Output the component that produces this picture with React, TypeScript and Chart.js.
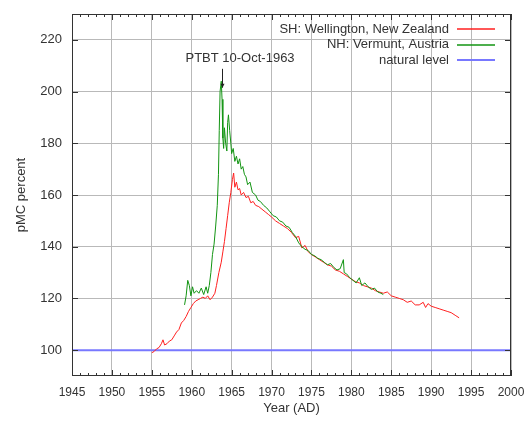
import React, { useEffect, useRef } from 'react';
import { Chart, registerables } from 'chart.js';

Chart.register(...registerables);

// SH: Wellington, New Zealand
const shYears = [
  1955.0, 1955.3, 1955.6, 1955.9, 1956.2, 1956.4, 1956.6, 1956.9, 1957.2, 1957.5,
  1957.8, 1958.1, 1958.4, 1958.7, 1959.0, 1959.3, 1959.6, 1959.9, 1960.2, 1960.5,
  1960.8, 1961.1, 1961.4, 1961.7, 1962.0, 1962.3, 1962.6, 1962.9, 1963.1, 1963.4,
  1963.7, 1963.9, 1964.1, 1964.3, 1964.5, 1964.7, 1964.9, 1965.1, 1965.25, 1965.4,
  1965.6, 1965.8, 1966.0, 1966.2, 1966.5, 1966.8, 1967.1, 1967.4, 1967.7, 1968.0,
  1968.4, 1968.8, 1969.2, 1969.6, 1970.0, 1970.5, 1971.0, 1971.5, 1972.0, 1972.5,
  1973.0, 1973.4, 1973.8, 1974.2, 1974.6, 1975.0, 1975.5, 1976.0, 1976.5, 1977.0,
  1977.5, 1978.0, 1978.5, 1979.0, 1979.5, 1980.0, 1980.5, 1981.0, 1981.5, 1982.0,
  1982.5, 1983.0, 1983.5, 1984.0, 1984.5, 1985.0, 1985.5, 1986.0, 1986.5, 1987.0,
  1987.5, 1988.0, 1988.5, 1989.0, 1989.3, 1989.6, 1990.0, 1990.5, 1991.0, 1991.5,
  1992.0, 1992.5, 1993.0, 1993.5,
];
const shValues = [
  99.0, 99.5, 100.5, 101.0, 102.5, 104.0, 102.0, 102.5, 103.5, 104.0,
  105.5, 107.0, 108.0, 110.5, 111.5, 113.0, 115.0, 116.5, 118.0, 119.0,
  119.5, 120.0, 120.5, 120.0, 121.0, 119.5, 120.5, 122.0, 125.0, 130.0,
  134.0, 138.0, 142.0, 147.0, 152.0, 157.0, 161.0, 166.0, 168.5, 163.0,
  165.0, 162.0, 162.5, 160.0, 161.0, 159.0, 159.5, 157.0, 157.5, 156.0,
  155.5, 154.5, 153.5, 152.5, 151.5, 150.0, 149.0, 148.0, 147.0, 145.5,
  143.5, 144.0, 139.5, 140.5, 138.0, 137.0, 136.0, 135.0, 134.0, 133.0,
  132.5, 131.0, 130.5, 129.5, 128.5, 127.5, 126.5, 126.0, 125.0, 124.5,
  124.0, 123.0, 122.5, 122.0, 122.5, 121.0, 120.5, 120.0, 119.5, 118.5,
  119.0, 117.5, 117.5, 118.5, 116.5, 118.0, 117.0, 116.5, 116.0, 115.5,
  115.0, 114.5, 113.5, 112.5,
];

// NH: Vermunt, Austria
const nhYears = [
  1959.1, 1959.3, 1959.5, 1959.7, 1959.9, 1960.1, 1960.3, 1960.6, 1960.9, 1961.2,
  1961.5, 1961.8, 1962.0, 1962.2, 1962.4, 1962.6, 1962.8, 1963.0, 1963.2, 1963.35,
  1963.45, 1963.55, 1963.7, 1963.8, 1963.9, 1964.0, 1964.1, 1964.25, 1964.4, 1964.5,
  1964.6, 1964.75, 1964.9, 1965.0, 1965.2, 1965.4, 1965.6, 1965.8, 1966.0, 1966.2,
  1966.4, 1966.6, 1966.8, 1967.0, 1967.3, 1967.6, 1968.0, 1968.3, 1968.6, 1969.0,
  1969.4, 1969.8, 1970.2, 1970.6, 1971.0, 1971.4, 1971.8, 1972.2, 1972.6, 1973.0,
  1973.4, 1973.8, 1974.2, 1974.6, 1975.0, 1975.4, 1975.8, 1976.2, 1976.6, 1977.0,
  1977.4, 1977.8, 1978.2, 1978.6, 1979.0, 1979.1, 1979.4, 1979.8, 1980.2, 1980.6,
  1981.0, 1981.3, 1981.7, 1982.1, 1982.5, 1982.9, 1983.3, 1983.7, 1984.0,
];
const nhValues = [
  117.5, 121.0, 127.0, 125.0, 121.0, 124.5, 122.0, 123.0, 122.0, 124.0,
  121.5, 124.5, 122.0, 125.0, 130.0, 137.0, 141.0, 148.0, 156.0, 168.0,
  185.0, 200.0, 204.0, 197.0, 182.0, 178.0, 186.0, 180.0, 177.0, 188.0,
  191.0, 185.0, 180.0, 176.0, 178.0, 173.0, 175.0, 172.0, 174.0, 170.0,
  171.0, 168.0, 167.0, 164.0, 165.0, 161.0, 160.0, 158.0, 157.5, 156.0,
  155.0, 153.5, 152.0, 151.5, 150.0, 149.5, 148.0, 147.5, 145.5, 144.0,
  141.5, 140.0, 139.0, 138.5, 137.0, 136.5, 135.5, 135.0, 134.0, 133.0,
  133.5, 132.0, 131.0, 131.5, 135.0, 130.0, 129.5, 128.0, 127.0, 126.0,
  128.0, 125.0, 126.0, 124.5, 123.5, 124.0, 122.5, 122.0, 121.5,
];

// natural level
const naturalYears = [1945, 2000];
const naturalValues = [100, 100];

const xTickValues = [1945, 1950, 1955, 1960, 1965, 1970, 1975, 1980, 1985, 1990, 1995, 2000];
const yTickValues = [100, 120, 140, 160, 180, 200, 220];
const xMin = 1945;
const xMax = 2000;
const yMin = 90;
const yMax = 230;

const seriesLabels = ['SH: Wellington, New Zealand', 'NH: Vermunt, Austria', 'natural level'];
const seriesColors = ['#ff1f1f', '#129412', '#7878ff'];
const seriesWidths = [1, 1, 2];

const annotationText = 'PTBT 10-Oct-1963';
const annotationYear = 1963.78;
const annotationTextValue = 212.7;
const arrowTopValue = 208.8;
const arrowBottomValue = 201.5;

const FONT = "'Liberation Sans', Arial, sans-serif";
const TEXT_COLOR = '#333333';

const framePlugin = {
  id: 'frame',
  afterDatasetsDraw(chart: any) {
    const { ctx, chartArea: a, scales } = chart;
    const xs = scales.x;
    const ys = scales.y;
    ctx.save();
    ctx.strokeStyle = '#333333';
    ctx.lineWidth = 1;
    const line = (x1: number, y1: number, x2: number, y2: number) => {
      ctx.beginPath();
      ctx.moveTo(x1, y1);
      ctx.lineTo(x2, y2);
      ctx.stroke();
    };
    // border
    ctx.strokeRect(Math.round(a.left) + 0.5, Math.round(a.top) + 0.5,
      Math.round(a.right - a.left) - 1, Math.round(a.bottom - a.top) - 1);
    // x ticks (major + minor, inward, top and bottom)
    for (let yr = xMin; yr <= xMax; yr++) {
      const px = Math.round(xs.getPixelForValue(yr)) + 0.5;
      const len = yr % 5 === 0 ? 6 : 3;
      line(px, a.bottom, px, a.bottom - len);
      line(px, a.top, px, a.top + len);
    }
    // y ticks inward on left and right
    for (const v of yTickValues) {
      const py = Math.round(ys.getPixelForValue(v)) + 0.5;
      line(a.left, py, a.left + 6, py);
      line(a.right, py, a.right - 6, py);
    }

    // legend (inside, top right, text right-aligned, sample on right)
    ctx.font = `13px ${FONT}`;
    ctx.textAlign = 'right';
    ctx.textBaseline = 'middle';
    const rowYs = [a.top + 15, a.top + 30.5, a.top + 46];
    seriesLabels.forEach((lab, i) => {
      const y = rowYs[i];
      ctx.fillStyle = TEXT_COLOR;
      ctx.fillText(lab, a.right - 62, y);
      ctx.strokeStyle = seriesColors[i];
      ctx.lineWidth = seriesWidths[i] === 1 ? 1.4 : seriesWidths[i];
      line(a.right - 54, Math.round(y), a.right - 16, Math.round(y));
    });

    // annotation
    const ax = Math.round(xs.getPixelForValue(annotationYear)) + 0.5;
    ctx.fillStyle = TEXT_COLOR;
    ctx.textAlign = 'left';
    ctx.fillText(annotationText, ax - 37, ys.getPixelForValue(annotationTextValue));
    const yTop = ys.getPixelForValue(arrowTopValue);
    const yBot = ys.getPixelForValue(arrowBottomValue);
    ctx.strokeStyle = '#222222';
    ctx.lineWidth = 1;
    line(ax, yTop, ax, yBot);
    ctx.fillStyle = '#222222';
    ctx.beginPath();
    ctx.moveTo(ax - 2, yBot - 4);
    ctx.lineTo(ax + 2, yBot - 4);
    ctx.lineTo(ax, yBot);
    ctx.closePath();
    ctx.fill();
    ctx.restore();
  },
};

export default function App() {
  const canvasRef = useRef<HTMLCanvasElement | null>(null);

  useEffect(() => {
    if (!canvasRef.current) return;
    const toPts = (xs: number[], ys: number[]) => xs.map((x, i) => ({ x, y: ys[i] }));
    const chart = new Chart(canvasRef.current, {
      type: 'scatter',
      data: {
        datasets: [
          {
            label: seriesLabels[0],
            data: toPts(shYears, shValues),
            showLine: true,
            borderColor: seriesColors[0],
            backgroundColor: seriesColors[0],
            borderWidth: seriesWidths[0],
            pointRadius: 0,
            order: 1,
          },
          {
            label: seriesLabels[1],
            data: toPts(nhYears, nhValues),
            showLine: true,
            borderColor: seriesColors[1],
            backgroundColor: seriesColors[1],
            borderWidth: seriesWidths[1],
            pointRadius: 0,
            order: 0,
          },
          {
            label: seriesLabels[2],
            data: toPts(naturalYears, naturalValues),
            showLine: true,
            borderColor: seriesColors[2],
            backgroundColor: seriesColors[2],
            borderWidth: seriesWidths[2],
            pointRadius: 0,
            order: 2,
          },
        ],
      },
      options: {
        responsive: false,
        animation: false,
        layout: { padding: { top: 14, right: 14, left: 0, bottom: 0 } },
        plugins: {
          legend: { display: false },
          tooltip: { enabled: false },
        },
        scales: {
          x: {
            type: 'linear',
            min: xMin,
            max: xMax,
            afterBuildTicks: (scale: any) => {
              scale.ticks = xTickValues.map((v) => ({ value: v }));
            },
            afterFit: (scale: any) => {
              scale.height = 47;
              scale.paddingLeft = 0;
              scale.paddingRight = 0;
            },
            border: { display: false },
            grid: { color: '#b9b9b9', lineWidth: 1, drawTicks: false },
            ticks: {
              padding: 9,
              color: TEXT_COLOR,
              font: { family: FONT, size: 12 },
              maxRotation: 0,
              autoSkip: false,
              callback: (v: any) => String(v),
            },
            title: {
              display: true,
              text: 'Year (AD)',
              color: TEXT_COLOR,
              font: { family: FONT, size: 13 },
              padding: { top: 0, bottom: 7 },
            },
          },
          y: {
            type: 'linear',
            min: yMin,
            max: yMax,
            afterBuildTicks: (scale: any) => {
              scale.ticks = yTickValues.map((v) => ({ value: v }));
            },
            afterFit: (scale: any) => {
              scale.width = 72;
              scale.paddingTop = 0;
              scale.paddingBottom = 0;
            },
            border: { display: false },
            grid: { color: '#b9b9b9', lineWidth: 1, drawTicks: false },
            ticks: {
              padding: 10,
              color: TEXT_COLOR,
              font: { family: FONT, size: 13 },
              autoSkip: false,
              callback: (v: any) => String(v),
            },
            title: {
              display: true,
              text: 'pMC percent',
              color: TEXT_COLOR,
              font: { family: FONT, size: 13 },
              padding: { top: 14, bottom: 0 },
            },
          },
        },
      },
      plugins: [framePlugin],
    } as any);
    return () => chart.destroy();
  }, []);

  return (
    <div style={{ position: 'fixed', left: 0, top: 0, width: 525, height: 423, background: '#ffffff' }}>
      <canvas ref={canvasRef} width={525} height={423} style={{ width: 525, height: 423, display: 'block' }} />
    </div>
  );
}
